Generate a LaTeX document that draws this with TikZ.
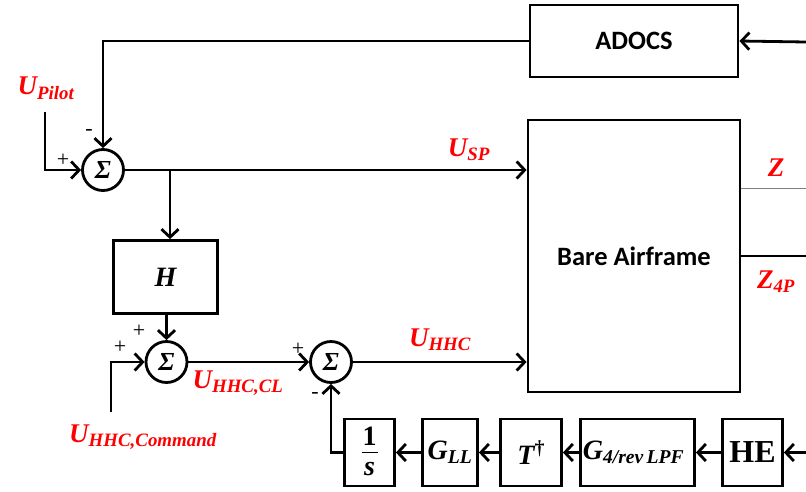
\documentclass[tikz,border=0pt]{standalone}
\usepackage{fontspec}
\newfontfamily\calibfont{Carlito}
\newfontfamily\mfont{Liberation Serif}
\usetikzlibrary{arrows.meta}
\begin{document}
\begin{tikzpicture}[x=1pt,y=-1pt,
 line width=2.8pt,
 >={Straight Barb[length=8pt,width=17pt,line width=2.8pt]},
 blk/.style={draw, line width=2.8pt, inner sep=0pt, minimum height=67pt, font=\mfont\bfseries\itshape\fontsize{28}{28}\selectfont},
 bigblk/.style={draw, line width=2.8pt, inner sep=0pt, font=\calibfont\bfseries\fontsize{26.5}{26.5}\selectfont},
 sumn/.style={draw, circle, line width=2.8pt, minimum size=41pt, inner sep=0pt, font=\mfont\bfseries\itshape\fontsize{26}{26}\selectfont},
 lab/.style={text=red, font=\mfont\bfseries\itshape\fontsize{27}{27}\selectfont},
 sgn/.style={font=\mfont\fontsize{22}{22}\selectfont},
 frac/.style={inner sep=0pt, font=\mfont\bfseries\itshape\fontsize{28}{28}\selectfont}]
\useasboundingbox (0,0) rectangle (806,491);
% blocks
\node[bigblk, minimum width=208pt, minimum height=72pt] (adocs) at (634,41) {ADOCS};
\node[bigblk, minimum width=212pt, minimum height=272pt] (bare) at (634,256) {Bare Airframe};
\node[sumn] (s1) at (103,170) {Σ};
\node[blk, minimum width=104pt, minimum height=73pt] (hblk) at (165.5,277) {H};
\node[sumn] (s2) at (166.5,362) {Σ};
\node[sumn] (s3) at (331,362) {Σ};
\node[blk, minimum width=60pt, font=\mfont\bfseries\fontsize{32}{32}\selectfont] (he) at (752.5,452.5) {HE};
\node[blk, minimum width=114pt] (g4) at (637.5,452.5) {\hspace*{-8pt}G\textsubscript{4/rev\,LPF}};
\node[blk, minimum width=61pt] (tt) at (531,452.5) {T\raisebox{0.35em}{\upshape\fontsize{20}{20}\selectfont †}};
\node[blk, minimum width=55pt] (gll) at (450,452.5) {G\textsubscript{LL}};
\node[blk, minimum width=50pt] (inv) at (369.5,452.5) {};
\node[frac] (one) at (369.5,436) {\upshape 1};
\node[frac] (ess) at (369.5,469) {s};
\draw[line width=1.4pt] ([xshift=-8pt]inv.center) -- ([xshift=8pt]inv.center);
% free ends
\coordinate (in1) at (806,42);
\coordinate (in2) at (806,452.5);
\coordinate (up) at (45,112);
\coordinate (cmd) at (111,412);
\coordinate (zc) at (806,188);
\coordinate (z4c) at (806,256);
\coordinate (br) at (170,170);
% connectors
\draw[->] (in1) -- (adocs.east);
\draw[->] (adocs.west) -| (s1.north);
\draw[->] (up) |- (s1.west);
\draw[->] (s1.east) -- (s1 -| bare.west);
\draw[->] (br) -- (br |- hblk.north);
\draw[->] (hblk.south -| s2.north) -- (s2.north);
\draw[->] (cmd) |- (s2.west);
\draw[->] (s2.east) -- (s3.west);
\draw[->] (s3.east) -- (s3 -| bare.west);
\draw[->] (in2) -- (he.east);
\draw[->] (he.west) -- (g4.east);
\draw[->] (g4.west) -- (tt.east);
\draw[->] (tt.west) -- (gll.east);
\draw[->] (gll.west) -- (inv.east);
\draw[->] (inv.west) -| (s3.south);
\draw[gray, line width=1pt] (bare.east |- zc) -- (zc);
\draw (bare.east |- z4c) -- (z4c);
% signs
\node[sgn] (m1) at (89,132) {-};
\node[sgn] (p1) at (63,160) {+};
\node[sgn] (p2) at (120,347) {+};
\node[sgn] (p3) at (139,331) {+};
\node[sgn] (p4) at (298,349) {+};
\node[sgn] (m3) at (315,395) {-};
% labels
\node[lab] (lpilot) at (46,88) {U\textsubscript{Pilot}};
\node[lab] (lsp) at (469,150) {U\textsubscript{SP}};
\node[lab] (lhhc) at (440,340) {U\textsubscript{HHC}};
\node[lab] (lcl) at (238,383) {U\textsubscript{HHC,CL}};
\node[lab] (lcmd) at (143,437) {U\textsubscript{HHC,Command}};
\node[lab] (lz) at (776,168) {Z};
\node[lab] (lz4) at (776,282) {Z\textsubscript{4P}};
\end{tikzpicture}
\end{document}
